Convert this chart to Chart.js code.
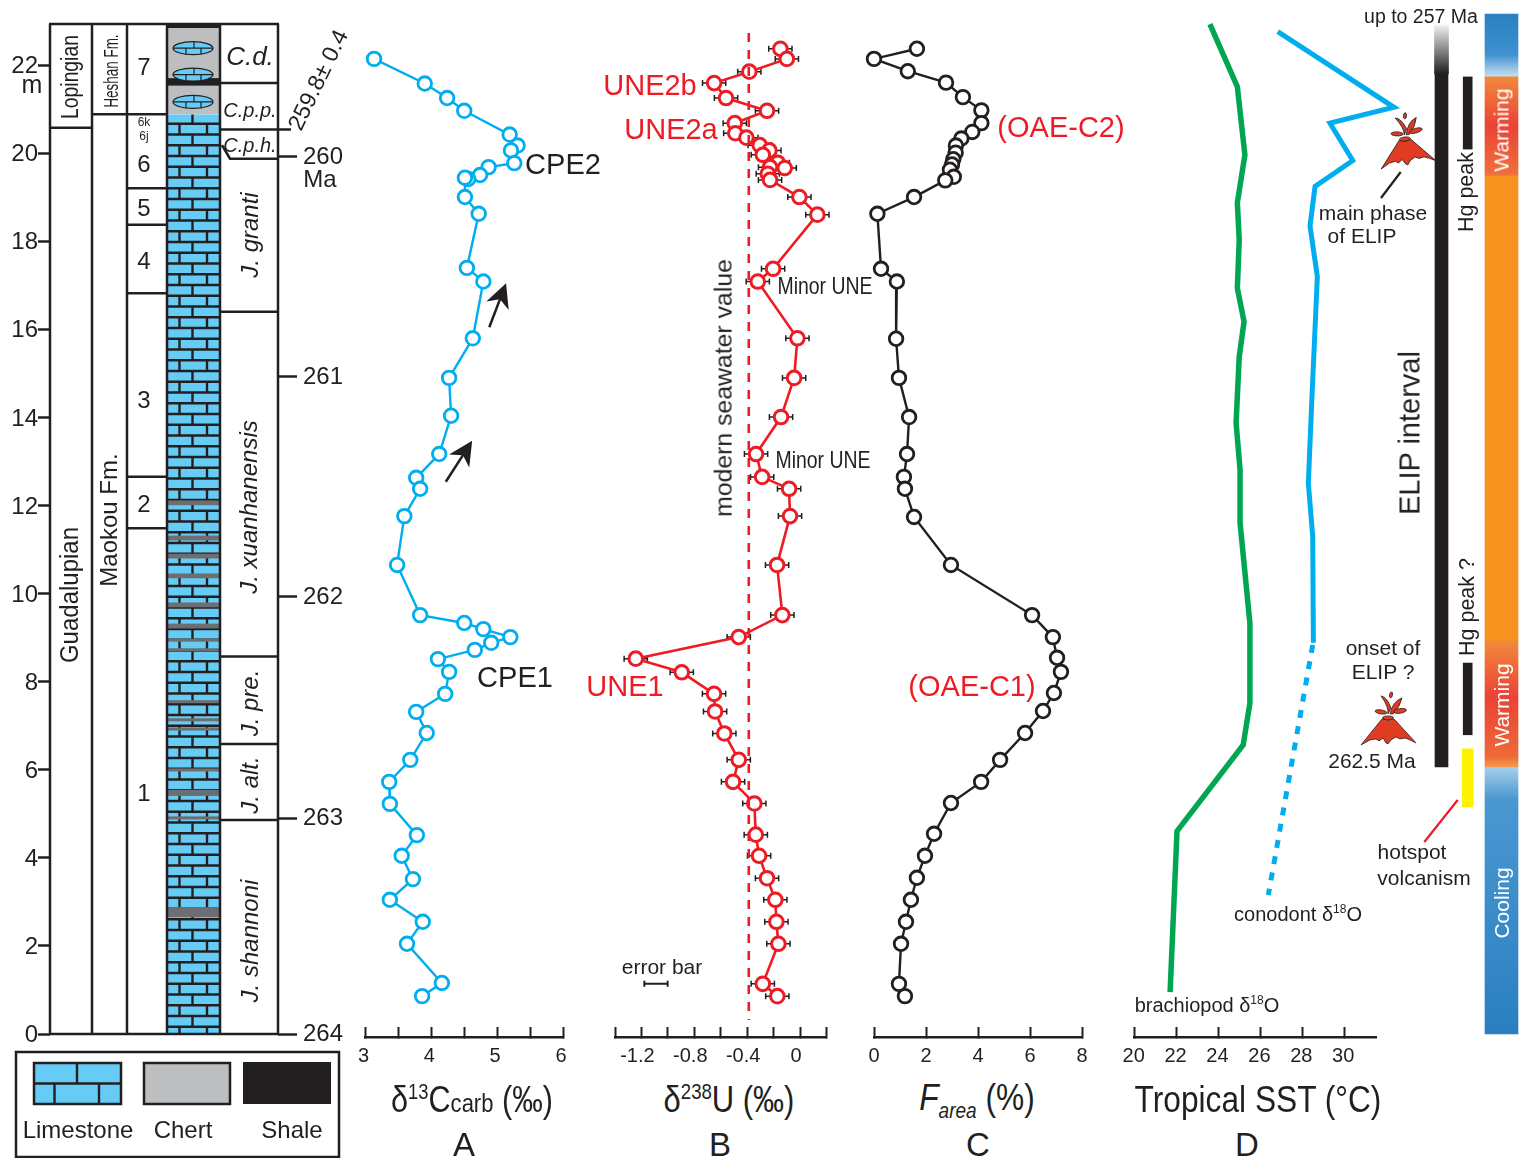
<!DOCTYPE html>
<html>
<head>
<meta charset="utf-8">
<title>Guadalupian record</title>
<script src="https://cdn.jsdelivr.net/npm/chart.js@4/dist/chart.umd.min.js"></script>
<style>
  html, body { margin: 0; padding: 0; background: #fff; }
  #stage { position: relative; width: 1519px; height: 1158px; overflow: hidden; font-family: "Liberation Sans", Arial, sans-serif; color: #231f20; }
  #stage canvas { position: absolute; top: 0; }
  .t { position: absolute; white-space: nowrap; line-height: 1; }
  .t sup, .t sub { font-size: 60%; line-height: 0; }
</style>
</head>
<body>
<div id="stage"></div>
<script>
// carbon isotopes, panel A
const carbDepths = [22.16, 21.60, 21.27, 20.98, 20.44, 20.19, 20.08, 19.79, 19.70, 19.52, 19.43, 19.46, 19.02, 18.64, 17.41, 17.10, 15.81, 14.91, 14.05, 13.18, 12.64, 12.39, 11.77, 10.66, 9.52, 9.34, 9.20, 9.02, 8.89, 8.73, 8.52, 8.23, 7.73, 7.32, 6.84, 6.23, 5.73, 5.23, 4.52, 4.05, 3.52, 3.05, 2.55, 2.05, 1.16, 0.86];
const carbValues = [3.13, 3.90, 4.24, 4.50, 5.19, 5.31, 5.21, 5.26, 4.87, 4.74, 4.56, 4.51, 4.51, 4.72, 4.54, 4.79, 4.63, 4.27, 4.30, 4.12, 3.77, 3.83, 3.59, 3.48, 3.83, 4.50, 4.79, 5.20, 4.91, 4.66, 4.10, 4.27, 4.21, 3.77, 3.93, 3.68, 3.36, 3.37, 3.78, 3.55, 3.72, 3.37, 3.87, 3.63, 4.16, 3.86];
// uranium isotopes, panel B
const uDepths = [22.39, 22.16, 21.87, 21.61, 21.27, 20.98, 20.70, 20.47, 20.37, 20.20, 20.08, 19.98, 19.80, 19.68, 19.70, 19.55, 19.41, 19.02, 18.62, 17.39, 17.10, 15.81, 14.91, 14.02, 13.18, 12.66, 12.39, 11.77, 10.66, 9.52, 9.02, 8.53, 8.22, 7.73, 7.33, 6.83, 6.23, 5.73, 5.24, 4.53, 4.05, 3.54, 3.05, 2.55, 2.05, 1.14, 0.86];
const uValues = [-0.149, -0.10, -0.384, -0.65, -0.56, -0.25, -0.494, -0.49, -0.406, -0.305, -0.232, -0.282, -0.169, -0.116, -0.227, -0.244, -0.227, -0.005, 0.131, -0.204, -0.32, -0.02, -0.045, -0.144, -0.333, -0.287, -0.083, -0.076, -0.174, -0.134, -0.464, -1.243, -0.895, -0.651, -0.643, -0.573, -0.464, -0.507, -0.346, -0.335, -0.31, -0.25, -0.187, -0.179, -0.164, -0.282, -0.172];
const uError = 0.088;
const seawaterU = -0.388;
const seawaterDepths = [22.75, 0.32];
// anoxic area, panel C
const areaDepths = [22.39, 22.16, 21.88, 21.62, 21.29, 20.99, 20.70, 20.50, 20.35, 20.19, 20.03, 19.88, 19.76, 19.64, 19.48, 19.40, 19.02, 18.64, 17.39, 17.10, 15.80, 14.91, 14.02, 13.18, 12.66, 12.39, 11.75, 10.66, 9.52, 9.02, 8.55, 8.23, 7.75, 7.34, 6.84, 6.23, 5.73, 5.25, 4.55, 4.05, 3.55, 3.05, 2.55, 2.05, 1.14, 0.86];
const areaValues = [1.65, 0, 1.30, 2.77, 3.42, 4.13, 4.13, 3.78, 3.36, 3.15, 3.14, 3.05, 3.00, 2.92, 3.07, 2.74, 1.54, 0.13, 0.27, 0.88, 0.85, 0.96, 1.35, 1.27, 1.15, 1.19, 1.54, 2.96, 6.08, 6.88, 7.04, 7.19, 6.92, 6.50, 5.81, 4.85, 4.12, 2.96, 2.31, 1.96, 1.65, 1.42, 1.23, 1.04, 0.96, 1.19];
// temperatures, panel D
const brachDepths = [22.95, 21.53, 19.98, 18.89, 18.05, 16.95, 16.19, 15.39, 13.89, 12.82, 11.61, 9.34, 7.52, 6.57, 4.61, 0.95];
const brachSST = [23.59, 24.90, 25.26, 24.90, 24.99, 24.90, 25.22, 24.99, 24.84, 25.03, 25.03, 25.50, 25.50, 25.18, 22.02, 21.69];
const conoDepths = [22.78, 21.06, 20.70, 19.85, 19.26, 18.36, 17.21, 14.34, 12.52, 11.30, 8.89];
const conoSST = [26.83, 32.38, 29.32, 30.41, 28.61, 28.37, 28.72, 28.45, 28.29, 28.50, 28.53];
const conoDashDepths = [8.84, 3.16];
const conoDashSST = [28.50, 26.38];
// tick labels
const uTickLabels = [-1.2, -0.8, -0.4, 0];
const maDepths = [19.93, 14.93, 9.93, 4.89, 0];
const maLabels = ['260', '261', '262', '263', '264'];
// stratigraphic column, boundaries in metres
const seriesTop = 20.59;
const formationTop = 20.9;
const memberTops = [20.9, 19.22, 18.39, 16.83, 12.66, 11.49];
const zoneTops = [21.61, 20.55, 19.89, 16.41, 8.58, 6.59, 4.86];
const chertTop = 22.95;
const shaleBand = [21.55, 21.72];
const noduleDepths = [22.4, 21.8, 21.18];
const bandDepths = [12.07, 11.27, 10.86, 10.41, 9.75, 9.27, 8.95, 8.73, 7.55, 7.14, 6.93, 6.0, 5.48, 4.91, 2.77];
const bandThick = [0.11, 0.11, 0.11, 0.11, 0.11, 0.11, 0.07, 0.07, 0.07, 0.07, 0.07, 0.07, 0.14, 0.07, 0.23];
// intervals on the right
const elipFade = [21.82, 22.93];
const elipBar = [6.07, 21.82];
const hgPeaks = [[20.11, 21.75], [6.80, 8.43]];
const hotspot = [5.16, 6.48];
const coolingTop = [21.77, 23.18];
const warmingUpper = [19.52, 21.77];
const orangeMid = [8.95, 19.52];
const warmingLower = [6.07, 8.95];
const coolingLow = [0, 6.07];
// arrows in panel A as [tailValue, tailDepth, tipValue, tipDepth]
const carbArrows = [[4.88, 16.06, 5.135, 17.06], [4.22, 12.55, 4.62, 13.48]];

const DEPTH_MIN = -0.068;
const DEPTH_MAX = 23.18;
const INK = '#231f20';
const BLUE = '#00aeef';
const RED = '#ed1c24';
const GREEN = '#00a651';
const LIME = '#66ccf6';
const stage = document.getElementById('stage');

function zip(xs, ys) {
  return xs.map((x, i) => ({ x, y: ys[i] }));
}

function addCanvas(left, width, height) {
  const c = document.createElement('canvas');
  c.width = width;
  c.height = height;
  c.style.left = left + 'px';
  stage.appendChild(c);
  return c;
}

function xAxis(min, max, step, shift, label) {
  return {
    type: 'linear', min, max,
    ticks: {
      stepSize: step, autoSkip: false, maxRotation: 0, includeBounds: false, padding: 17, color: INK, labelOffset: shift,
      font: { family: 'Liberation Sans', size: 20 }, callback: label,
    },
    grid: { drawOnChartArea: false, tickLength: -10, tickWidth: 2, tickColor: INK },
    border: { color: INK, width: 2.5 },
    afterFit(axis) { axis.height = 33; },
  };
}

function lineSet(data, color, extra) {
  return Object.assign({
    data, borderColor: color, borderWidth: 2.4, pointRadius: 6.8, pointBorderWidth: 2.8,
    pointBackgroundColor: '#fff', pointBorderColor: color, tension: 0, clip: false,
  }, extra);
}

function panel(left, width, padL, padR, x, datasets, plugins) {
  return new Chart(addCanvas(left, width, 1070), {
    type: 'line',
    data: { datasets },
    options: {
      responsive: false, animation: false, events: [],
      layout: { padding: { left: padL, right: padR, top: 14, bottom: 0 } },
      plugins: { legend: { display: false }, tooltip: { enabled: false } },
      scales: { x, y: { type: 'linear', display: false, min: DEPTH_MIN, max: DEPTH_MAX } },
    },
    plugins: plugins || [],
  });
}

function drawBricks(ctx, x0, x1, y0, y1, rowH, first, xa, xb1, xb2) {
  ctx.save();
  ctx.beginPath();
  ctx.rect(x0, y0, x1 - x0, y1 - y0);
  ctx.clip();
  ctx.fillStyle = LIME;
  ctx.fillRect(x0, y0, x1 - x0, y1 - y0);
  ctx.strokeStyle = INK;
  ctx.lineWidth = 2.4;
  let top = y0;
  let bottom = y0 + first;
  let odd = true;
  while (top < y1) {
    ctx.beginPath();
    ctx.moveTo(x0, bottom);
    ctx.lineTo(x1, bottom);
    (odd ? [xa] : [xb1, xb2]).forEach((x) => {
      ctx.moveTo(x, top);
      ctx.lineTo(x, bottom);
    });
    ctx.stroke();
    top = bottom;
    bottom += rowH;
    odd = !odd;
  }
  ctx.restore();
}

function drawNodule(ctx, cx, cy) {
  ctx.save();
  ctx.beginPath();
  ctx.ellipse(cx, cy, 20, 6.5, 0, 0, Math.PI * 2);
  ctx.fillStyle = LIME;
  ctx.fill();
  ctx.clip();
  ctx.strokeStyle = INK;
  ctx.lineWidth = 1.2;
  ctx.beginPath();
  ctx.moveTo(cx - 20, cy);
  ctx.lineTo(cx + 20, cy);
  ctx.moveTo(cx - 7, cy);
  ctx.lineTo(cx - 7, cy + 7);
  ctx.moveTo(cx + 8, cy);
  ctx.lineTo(cx + 8, cy + 7);
  ctx.moveTo(cx + 1, cy - 7);
  ctx.lineTo(cx + 1, cy);
  ctx.stroke();
  ctx.restore();
  ctx.strokeStyle = INK;
  ctx.lineWidth = 1.2;
  ctx.beginPath();
  ctx.ellipse(cx, cy, 20, 6.5, 0, 0, Math.PI * 2);
  ctx.stroke();
}

const columnPlugin = {
  id: 'column',
  afterDraw(chart) {
    const ctx = chart.ctx;
    const y = chart.scales.y;
    const py = (d) => y.getPixelForValue(d);
    const top = py(chertTop);
    const base = py(0);
    const cols = [50, 92, 127, 167, 220, 278];

    ctx.save();
    // lithology
    drawBricks(ctx, 167, 220, py(formationTop), base, 10.75, 9.5, 192.5, 179.5, 207);
    ctx.fillStyle = '#6d6e71';
    bandDepths.forEach((d, i) => {
      const h = py(d - bandThick[i] / 2) - py(d + bandThick[i] / 2);
      ctx.fillRect(167, py(d + bandThick[i] / 2), 53, h);
    });
    ctx.fillStyle = '#bcbec0';
    ctx.fillRect(167, top, 53, py(formationTop) - top);
    ctx.fillStyle = INK;
    ctx.fillRect(167, py(shaleBand[1]), 53, py(shaleBand[0]) - py(shaleBand[1]));
    ctx.fillRect(167, top, 53, 4);
    noduleDepths.forEach((d) => drawNodule(ctx, 193, py(d)));

    // frame
    ctx.strokeStyle = INK;
    ctx.lineWidth = 2.5;
    ctx.beginPath();
    cols.forEach((x) => {
      ctx.moveTo(x, top);
      ctx.lineTo(x, base);
    });
    ctx.moveTo(cols[0] - 1, top);
    ctx.lineTo(cols[5] + 1, top);
    ctx.moveTo(cols[0], base);
    ctx.lineTo(cols[5], base);
    ctx.moveTo(cols[0], py(seriesTop));
    ctx.lineTo(cols[1], py(seriesTop));
    ctx.moveTo(cols[1], py(formationTop));
    ctx.lineTo(cols[2], py(formationTop));
    memberTops.forEach((d) => {
      ctx.moveTo(cols[2], py(d));
      ctx.lineTo(cols[3], py(d));
    });
    zoneTops.forEach((d, i) => {
      if (i === 2) {
        ctx.moveTo(222, py(20.2));
        ctx.lineTo(230, py(d));
        ctx.lineTo(cols[5], py(d));
      } else {
        ctx.moveTo(cols[4], py(d));
        ctx.lineTo(i === 1 ? 291 : cols[5], py(d));
      }
    });
    ctx.stroke();

    // legend box
    ctx.strokeRect(16, 1052, 323, 105);
    drawBricks(ctx, 34, 121, 1063, 1104, 21, 20.5, 77, 54.5, 99);
    ctx.strokeRect(34, 1063, 87, 41);
    ctx.fillStyle = '#bcbec0';
    ctx.fillRect(144, 1063, 86, 41);
    ctx.strokeRect(144, 1063, 86, 41);
    ctx.fillStyle = INK;
    ctx.fillRect(243, 1062, 88, 42);
    ctx.restore();
  },
};

new Chart(addCanvas(0, 360, 1158), {
  type: 'line',
  data: { datasets: [] },
  options: {
    responsive: false, animation: false, events: [],
    layout: { padding: { left: 0, right: 0, top: 24, bottom: 124 } },
    plugins: { legend: { display: false }, tooltip: { enabled: false } },
    scales: {
      x: { type: 'linear', display: false, min: 0, max: 1 },
      y: {
        type: 'linear', position: 'left', min: 0, max: chertTop,
        ticks: { stepSize: 2, autoSkip: false, includeBounds: false, padding: 0, labelOffset: 1, color: INK, font: { family: 'Liberation Sans', size: 24 } },
        grid: { drawOnChartArea: false, tickLength: 12, tickWidth: 2.5, tickColor: INK },
        border: { display: false },
        afterFit(axis) { axis.width = 50; },
      },
      yMa: {
        type: 'linear', position: 'right', min: 0, max: chertTop,
        afterBuildTicks(axis) { axis.ticks = maDepths.map((value) => ({ value })); },
        ticks: { autoSkip: false, padding: 6, color: INK, font: { family: 'Liberation Sans', size: 24 }, callback: (v, i) => maLabels[i] },
        grid: { drawOnChartArea: false, tickLength: 19, tickWidth: 2.5, tickColor: INK },
        border: { display: false },
        afterFit(axis) { axis.width = 82; },
      },
    },
  },
  plugins: [columnPlugin],
});

const arrowPlugin = {
  id: 'arrows',
  afterDatasetsDraw(chart) {
    const { ctx, scales } = chart;
    ctx.save();
    ctx.fillStyle = INK;
    ctx.strokeStyle = INK;
    ctx.lineWidth = 2.5;
    carbArrows.forEach(([v0, d0, v1, d1]) => {
      const x0 = scales.x.getPixelForValue(v0);
      const y0 = scales.y.getPixelForValue(d0);
      const x1 = scales.x.getPixelForValue(v1);
      const y1 = scales.y.getPixelForValue(d1);
      const a = Math.atan2(y1 - y0, x1 - x0);
      ctx.beginPath();
      ctx.moveTo(x0, y0);
      ctx.lineTo(x1 - 14 * Math.cos(a), y1 - 14 * Math.sin(a));
      ctx.stroke();
      ctx.save();
      ctx.translate(x1, y1);
      ctx.rotate(a);
      ctx.beginPath();
      ctx.moveTo(0, 0);
      ctx.lineTo(-24, -12);
      ctx.lineTo(-17, 0);
      ctx.lineTo(-24, 12);
      ctx.closePath();
      ctx.fill();
      ctx.restore();
    });
    ctx.restore();
  },
};

const errorPlugin = {
  id: 'errors',
  beforeDatasetsDraw(chart) {
    const { ctx, scales } = chart;
    const bar = (lo, hi, d, w) => {
      const a = scales.x.getPixelForValue(lo);
      const b = scales.x.getPixelForValue(hi);
      const y = scales.y.getPixelForValue(d);
      ctx.lineWidth = w;
      ctx.beginPath();
      ctx.moveTo(a, y);
      ctx.lineTo(b, y);
      ctx.moveTo(a, y - 3);
      ctx.lineTo(a, y + 3);
      ctx.moveTo(b, y - 3);
      ctx.lineTo(b, y + 3);
      ctx.stroke();
    };
    ctx.save();
    ctx.strokeStyle = INK;
    uValues.forEach((v, i) => bar(v - uError, v + uError, uDepths[i], 1.5));
    bar(-1.09 - uError, -1.09 + uError, 1.14, 2);
    ctx.restore();
  },
};

panel(330, 270, 35.5, 37, xAxis(3, 6, 0.5, -2, (v) => (Number.isInteger(v) ? v : '')),
  [lineSet(zip(carbValues, carbDepths), BLUE)], [arrowPlugin]);

panel(590, 260, 25, 23.5, xAxis(-1.4, 0.2, 0.2, -4, (v) => {
  const r = Math.round(v * 10) / 10;
  if (!uTickLabels.includes(r)) return '';
  return r === 0 ? '0' : r.toFixed(1);
}), [
  lineSet(zip([seawaterU, seawaterU], seawaterDepths), RED, { pointRadius: 0, pointBorderWidth: 0, borderWidth: 2.6, borderDash: [9, 8] }),
  lineSet(zip(uValues, uDepths), RED, { borderWidth: 2.6, pointBorderWidth: 3 }),
], [errorPlugin]);

panel(850, 260, 24, 28, xAxis(0, 8, 2, 0), [lineSet(zip(areaValues, areaDepths), INK)]);

panel(1095, 315, 39.7, 34, xAxis(20, 31.52, 2, -1), [
  lineSet(zip(brachSST, brachDepths), GREEN, { pointRadius: 0, pointBorderWidth: 0, borderWidth: 5.5, borderJoinStyle: 'miter' }),
  lineSet(zip(conoSST, conoDepths), BLUE, { pointRadius: 0, pointBorderWidth: 0, borderWidth: 5, borderJoinStyle: 'miter' }),
  lineSet(zip(conoDashSST, conoDashDepths), BLUE, { pointRadius: 0, pointBorderWidth: 0, borderWidth: 5, borderDash: [8, 8.5] }),
]);

// right hand intervals, x scale of this chart runs in page pixels
function fade(stops) {
  return (c) => {
    const y = c.chart.scales.y;
    if (!c.chart.chartArea || !y) return stops[0][1];
    const [d0, d1] = stops[stops.length - 1][2];
    const g = c.chart.ctx.createLinearGradient(0, y.getPixelForValue(d1), 0, y.getPixelForValue(d0));
    stops.forEach(([at, color]) => g.addColorStop(at, color));
    return g;
  };
}

function interval(x, thick, range, color) {
  return { data: [{ x, y: range }], barThickness: thick, backgroundColor: color, grouped: false, borderWidth: 0, borderSkipped: false, clip: false };
}

function drawVolcano(ctx, cx, base, rot) {
  const flame = (pts) => {
    ctx.beginPath();
    ctx.moveTo(pts[0], pts[1]);
    ctx.quadraticCurveTo(pts[2], pts[3], pts[4], pts[5]);
    ctx.quadraticCurveTo(pts[6], pts[7], pts[8], pts[9]);
    ctx.closePath();
    ctx.fill();
    ctx.stroke();
  };
  ctx.save();
  ctx.translate(cx, base);
  ctx.rotate(rot);
  ctx.fillStyle = '#e03c22';
  ctx.strokeStyle = INK;
  ctx.lineWidth = 0.8;
  ctx.beginPath();
  ctx.moveTo(-27, 0);
  ctx.lineTo(-6, -26);
  ctx.quadraticCurveTo(0, -23, 6, -26);
  ctx.lineTo(28, -2);
  ctx.lineTo(22, -5);
  ctx.lineTo(17, -7);
  ctx.lineTo(12, -6);
  ctx.lineTo(8, -8);
  ctx.lineTo(3, -5);
  ctx.lineTo(0, -1);
  ctx.lineTo(-2, -2);
  ctx.lineTo(-5, -7);
  ctx.lineTo(-9, -4);
  ctx.lineTo(-12, -6);
  ctx.lineTo(-18, -5);
  ctx.closePath();
  ctx.fill();
  ctx.stroke();
  ctx.beginPath();
  ctx.ellipse(0, -27, 5.5, 2, 0, 0, Math.PI * 2);
  ctx.fill();
  ctx.stroke();
  flame([0, -31, 1, -38, -7, -49, -1, -48, 3, -37]);
  flame([2, -31, 5, -44, 14, -47, 12, -38, 5, -31]);
  [[3, -50, 1.5, 3, 0.2], [-7, -33, 6, 2, 0.15], [12, -34, 6.5, 2.3, -0.15]].forEach(([x, y, rx, ry, a]) => {
    ctx.beginPath();
    ctx.ellipse(x, y, rx, ry, a, 0, Math.PI * 2);
    ctx.fill();
    ctx.stroke();
  });
  ctx.restore();
}

const rightPlugin = {
  id: 'rightNotes',
  afterDatasetsDraw(chart) {
    const { ctx, scales } = chart;
    const lead = (x0, y0, x1, y1, color) => {
      ctx.strokeStyle = color;
      ctx.lineWidth = 2.2;
      ctx.beginPath();
      ctx.moveTo(scales.x.getPixelForValue(x0), y0);
      ctx.lineTo(scales.x.getPixelForValue(x1), y1);
      ctx.stroke();
    };
    ctx.save();
    lead(1400.7, 172, 1381, 198, INK);
    lead(1457.7, 800, 1424.3, 842, RED);
    drawVolcano(ctx, scales.x.getPixelForValue(1408), scales.y.getPixelForValue(19.73), -0.12);
    drawVolcano(ctx, scales.x.getPixelForValue(1388), scales.y.getPixelForValue(6.57), 0);
    ctx.restore();
  },
};

new Chart(addCanvas(1320, 199, 1070), {
  type: 'bar',
  data: {
    datasets: [
      interval(1441.5, 14, elipFade, fade([[0, '#f2f2f2'], [1, INK, elipFade]])),
      interval(1441.5, 13, elipBar, INK),
      interval(1467.7, 9, hgPeaks[0], INK),
      interval(1467.7, 9, hgPeaks[1], INK),
      interval(1467.7, 11, hotspot, '#fff200'),
      interval(1501.5, 33, coolingTop, fade([[0, '#2b7fc0'], [0.65, '#3f92cf'], [1, '#c4def0', coolingTop]])),
      interval(1501.5, 33, warmingUpper, fade([[0, '#f28a3c'], [0.5, '#ea4335'], [1, '#f0703a', warmingUpper]])),
      interval(1501.5, 33, orangeMid, '#f7931e'),
      interval(1501.5, 33, warmingLower, fade([[0, '#f28a3c'], [0.45, '#ea4335'], [0.92, '#ee6a38'], [1, '#f49a4e', warmingLower]])),
      interval(1501.5, 33, coolingLow, fade([[0, '#a8cfe9'], [0.12, '#4a98d2'], [1, '#2b7fc0', coolingLow]])),
    ],
  },
  options: {
    responsive: false, animation: false, events: [],
    layout: { padding: { left: 0, right: 0, top: 14, bottom: 33 } },
    plugins: { legend: { display: false }, tooltip: { enabled: false } },
    scales: {
      x: { type: 'linear', display: false, offset: false, min: 1320, max: 1519 },
      y: { type: 'linear', display: false, min: DEPTH_MIN, max: DEPTH_MAX },
    },
  },
  plugins: [rightPlugin],
});

// text, centred on x,y. sx squeezes it, the installed fonts have no narrow cut
const texts = [
  ['m', 32, 84, 25],
  ['Lopingian', 70, 77, 23, { rot: -90, sx: 0.84 }],
  ['Heshan Fm.', 110, 71, 21, { rot: -90, sx: 0.64 }],
  ['Guadalupian', 69, 595, 25, { rot: -90, sx: 0.96 }],
  ['Maokou Fm.', 109, 520, 24, { rot: -90 }],
  ['7', 144, 67, 24], ['6k', 144, 122, 12], ['6j', 144, 136, 12], ['6', 144, 164, 24], ['5', 144, 208, 24],
  ['4', 144, 261, 24], ['3', 144, 400, 24], ['2', 144, 504, 24], ['1', 144, 793, 24],
  ['C.d.', 250, 56, 26, { it: 1 }],
  ['C.p.p.', 250, 110, 20, { it: 1 }],
  ['C.p.h.', 250, 145, 20, { it: 1 }],
  ['J. granti', 250, 235, 24, { it: 1, rot: -90 }],
  ['J. xuanhanensis', 249, 507, 24, { it: 1, rot: -90 }],
  ['J. pre.', 250, 703, 24, { it: 1, rot: -90 }],
  ['J. alt.', 250, 785, 24, { it: 1, rot: -90 }],
  ['J. shannoni', 250, 941, 24, { it: 1, rot: -90 }],
  ['259.8± 0.4', 318, 80, 23, { rot: -64 }],
  ['Ma', 320, 179, 24],
  ['Limestone', 78, 1130, 24], ['Chert', 183, 1130, 24], ['Shale', 292, 1130, 24],
  ['CPE2', 563, 164, 29], ['CPE1', 515, 677, 29],
  ['UNE2b', 650, 85, 29, { color: RED }],
  ['UNE2a', 671, 129, 29, { color: RED }],
  ['UNE1', 625, 686, 29, { color: RED }],
  ['Minor UNE', 825, 286, 24, { sx: 0.81 }],
  ['Minor UNE', 823, 460, 24, { sx: 0.81 }],
  ['modern seawater value', 724, 388, 24.8, { rot: -90 }],
  ['error bar', 662, 966, 21],
  ['(OAE-C2)', 1061, 127, 29, { color: RED }],
  ['(OAE-C1)', 972, 686, 29, { color: RED }],
  ['brachiopod δ<sup>18</sup>O', 1207, 1005, 20],
  ['conodont δ<sup>18</sup>O', 1298, 914, 20],
  ['up to 257 Ma', 1421, 17, 19.5],
  ['main phase', 1373, 212, 21], ['of ELIP', 1362, 235, 21],
  ['Hg peak', 1467, 192, 21.5, { rot: -90 }],
  ['Hg peak ?', 1468, 607, 21.5, { rot: -90 }],
  ['ELIP interval', 1410, 433, 29, { rot: -90 }],
  ['onset of', 1383, 647, 21], ['ELIP ?', 1383, 671, 21],
  ['262.5 Ma', 1372, 760, 21],
  ['hotspot', 1412, 851, 21], ['volcanism', 1424, 877, 21],
  ['Warming', 1501, 130, 21, { rot: -90, color: '#fff' }],
  ['Warming', 1501, 705, 21, { rot: -90, color: '#fff' }],
  ['Cooling', 1501, 903, 21, { rot: -90, color: '#fff' }],
  ['δ<sup>13</sup>C<span style="font-size:72%">carb</span> (‰)', 472, 1100, 36, { sx: 0.85 }],
  ['δ<sup>238</sup>U (‰)', 729, 1100, 36, { sx: 0.86 }],
  ['<i>F<sub>area</sub></i> (%)', 976.5, 1098, 36, { sx: 0.88 }],
  ['Tropical SST (°C)', 1257.5, 1100, 36, { sx: 0.88 }],
  ['A', 464, 1144, 33], ['B', 720, 1144, 33], ['C', 978, 1144, 33], ['D', 1247, 1144, 33],
];

texts.forEach(([html, x, y, size, o]) => {
  const opt = o || {};
  const el = document.createElement('div');
  el.className = 't';
  el.innerHTML = html;
  el.style.left = x + 'px';
  el.style.top = y + 'px';
  el.style.fontSize = size + 'px';
  if (opt.it) el.style.fontStyle = 'italic';
  if (opt.color) el.style.color = opt.color;
  el.style.transform = 'translate(-50%,-50%)' + (opt.rot ? ` rotate(${opt.rot}deg)` : '') + (opt.sx ? ` scaleX(${opt.sx})` : '');
  stage.appendChild(el);
});
</script>
</body>
</html>
